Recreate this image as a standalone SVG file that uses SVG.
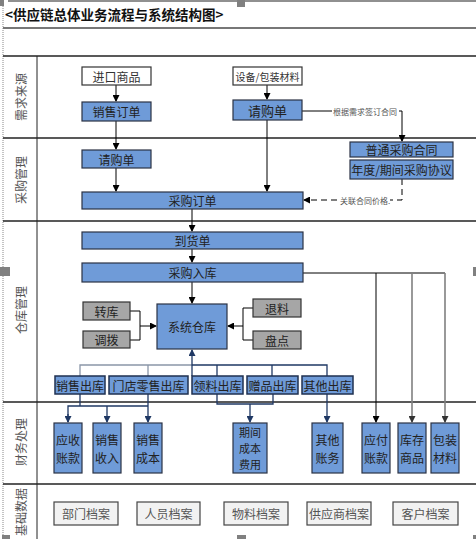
<svg xmlns="http://www.w3.org/2000/svg" width="476" height="539" viewBox="0 0 476 539">
<defs>
<marker id="ah" markerWidth="7" markerHeight="7" refX="6" refY="3.5" orient="auto" markerUnits="userSpaceOnUse"><path d="M0,0 L7,3.5 L0,7 z" fill="#000"/></marker>
<marker id="ahn" markerWidth="7" markerHeight="7" refX="6" refY="3.5" orient="auto" markerUnits="userSpaceOnUse"><path d="M0,0 L7,3.5 L0,7 z" fill="#1f3864"/></marker>
<marker id="ahg" markerWidth="7" markerHeight="7" refX="6" refY="3.5" orient="auto" markerUnits="userSpaceOnUse"><path d="M0,0 L7,3.5 L0,7 z" fill="#333"/></marker>
</defs>
<style>
text{font-family:"Noto Sans CJK SC","Noto Sans",sans-serif;}
.t{font-size:12px;fill:#222;text-anchor:middle;dominant-baseline:central;}
.f{font-size:12px;fill:#222;text-anchor:middle;dominant-baseline:central;}
.f3{font-size:11px;fill:#222;text-anchor:middle;dominant-baseline:central;}
.lane{font-size:12px;fill:#555;text-anchor:middle;dominant-baseline:central;}
.sm{font-size:8px;fill:#555;dominant-baseline:central;}
.blue{fill:#6f9bd8;stroke:#2b3245;stroke-width:1.2;}
.blueo{fill:#6f9bd8;stroke:#1f3050;stroke-width:1.5;}
.white{fill:#fff;stroke:#333;stroke-width:1.2;}
.gray{fill:#a6a6a6;stroke:#333;stroke-width:1.2;}
.base{fill:#f2f2f2;stroke:#444;stroke-width:1.2;}
.c{fill:none;stroke:#000;stroke-width:1;}
.cn{fill:none;stroke:#1f3864;stroke-width:1.3;}
.cg{fill:none;stroke:#8a96a8;stroke-width:1.3;}
.cgr{fill:none;stroke:#808080;stroke-width:1.6;}
.lanel{stroke:#222;stroke-width:1.4;}
.h{fill:#808080;}
</style>

<g id="frame">
<line x1="3" y1="0" x2="3" y2="539" stroke="#888" stroke-width="1" stroke-dasharray="1,1"/>
<line x1="8" y1="1" x2="476" y2="1" stroke="#222" stroke-width="1.2"/>
<line x1="3" y1="28" x2="476" y2="28" stroke="#777" stroke-width="2"/>
<line x1="3" y1="56" x2="476" y2="56" class="lanel"/>
<line x1="3" y1="138" x2="476" y2="138" class="lanel"/>
<line x1="3" y1="221" x2="476" y2="221" class="lanel"/>
<line x1="3" y1="402" x2="476" y2="402" class="lanel"/>
<line x1="3" y1="484" x2="476" y2="484" class="lanel"/>
<line x1="37" y1="56" x2="37" y2="539" stroke="#222" stroke-width="1"/>
<rect class="h" x="0" y="0" width="4" height="6"/>
<rect class="h" x="237" y="0" width="8" height="7"/>
<rect class="h" x="0" y="267" width="10" height="9"/>
<rect class="h" x="473" y="267" width="3" height="9"/>
<rect class="h" x="2" y="535" width="8" height="4"/>
<rect class="h" x="237" y="535" width="9" height="4"/>
<rect class="h" x="473" y="535" width="3" height="4"/>
<text x="5" y="14" style="font-size:13.5px;font-weight:bold;fill:#111;dominant-baseline:central;">&lt;供应链总体业务流程与系统结构图&gt;</text>
<text class="lane" transform="translate(20,97) rotate(-90)">需求来源</text>
<text class="lane" transform="translate(20,180) rotate(-90)">采购管理</text>
<text class="lane" transform="translate(20,310) rotate(-90)">仓库管理</text>
<text class="lane" transform="translate(20,442) rotate(-90)">财务处理</text>
<text class="lane" transform="translate(20,512) rotate(-90)">基础数据</text>
</g>

<g id="connectors">
<line class="c" x1="116" y1="85" x2="116" y2="101" marker-end="url(#ah)"/>
<line class="c" x1="267" y1="85" x2="267" y2="99" marker-end="url(#ah)"/>
<line class="c" x1="116" y1="121" x2="116" y2="149" marker-end="url(#ah)"/>
<line class="c" x1="116" y1="168" x2="116" y2="191" marker-end="url(#ah)"/>
<line class="c" x1="267" y1="120" x2="267" y2="191" marker-end="url(#ah)"/>
<polyline class="c" points="302,111 332,111"/>
<text class="sm" x="333" y="111">根据需求签订合同</text>
<polyline class="c" points="399,111 402,111 402,141" marker-end="url(#ah)"/>
<polyline class="c" points="402,179 402,200 390,200" stroke-dasharray="6,4"/>
<text class="sm" x="340" y="200">关联合同价格.</text>
<polyline class="c" points="337,200 304,200" stroke-dasharray="6,4" marker-end="url(#ah)"/>
<line class="c" x1="192" y1="209" x2="192" y2="231" marker-end="url(#ah)"/>
<line class="c" x1="192" y1="249" x2="192" y2="262" marker-end="url(#ah)"/>
<line class="c" x1="192" y1="282" x2="192" y2="303" marker-end="url(#ah)"/>
<polyline class="c" points="303,273 445,273"/>
<line class="c" x1="376" y1="273" x2="376" y2="422" marker-end="url(#ah)"/>
<line class="cgr" x1="412" y1="273" x2="412" y2="422" marker-end="url(#ahg)"/>
<line class="cgr" x1="445" y1="273" x2="445" y2="422" marker-end="url(#ahg)"/>
<polyline class="c" points="130,311 140,311 140,340 130,340"/>
<line class="c" x1="140" y1="326" x2="156" y2="326" marker-end="url(#ah)"/>
<polyline class="c" points="253,308 243,308 243,340 253,340"/>
<line class="c" x1="243" y1="326" x2="228" y2="326" marker-end="url(#ah)"/>
<polyline class="cg" points="80,376 80,365 192,365"/>
<line class="cg" x1="148" y1="365" x2="148" y2="376"/>
<polyline class="cn" points="192,365 327,365 327,376"/>
<line class="cn" x1="217" y1="365" x2="217" y2="376"/>
<line class="cn" x1="272" y1="365" x2="272" y2="376"/>
<line class="cn" x1="192" y1="376" x2="192" y2="350" stroke-width="2" marker-end="url(#ahn)"/>
<polyline class="cn" points="80,394 80,406"/>
<polyline class="cn" points="148,394 148,422" marker-end="url(#ahn)"/>
<polyline class="cn" points="68,422 68,406 148,406"/>
<line class="cn" x1="68" y1="414" x2="68" y2="422" marker-end="url(#ahn)"/>
<line class="cn" x1="107" y1="406" x2="107" y2="422" marker-end="url(#ahn)"/>
<polyline class="cn" points="217,394 217,404 273,404 273,394"/>
<line class="cn" x1="250" y1="404" x2="250" y2="422" marker-end="url(#ahn)"/>
<line class="cn" x1="327" y1="394" x2="327" y2="422" marker-end="url(#ahn)"/>
</g>

<g id="n-import"><rect class="white" x="82" y="67" width="69" height="18"/><text class="t" x="116.5" y="76" style="fill:#333">进口商品</text></g>
<g id="n-equip"><rect class="white" x="233" y="67" width="69" height="18"/><text class="t" x="267.5" y="76" style="font-size:10px;fill:#333">设备/包装材料</text></g>
<g id="n-salesorder"><rect class="blue" x="82" y="102" width="69" height="19"/><text class="t" x="116.5" y="111.5">销售订单</text></g>
<g id="n-req1"><rect class="blue" x="233" y="100" width="69" height="20"/><text class="t" x="267.5" y="110" style="font-size:13px">请购单</text></g>
<g id="n-contract"><rect class="blue" x="350" y="142" width="103" height="15"/><text class="t" x="401.5" y="149.5">普通采购合同</text></g>
<g id="n-agreement"><rect class="blue" x="350" y="160" width="103" height="19"/><text class="t" x="401.5" y="169.5">年度/期间采购协议</text></g>
<g id="n-req2"><rect class="blue" x="82" y="150" width="69" height="18"/><text class="t" x="116.5" y="159">请购单</text></g>
<g id="n-po"><rect class="blue" x="82" y="192" width="221" height="17"/><text class="t" x="192.5" y="200.5">采购订单</text></g>
<g id="n-arrival"><rect class="blue" x="82" y="232" width="221" height="17"/><text class="t" x="192.5" y="240.5">到货单</text></g>
<g id="n-inbound"><rect class="blue" x="82" y="263" width="221" height="19"/><text class="t" x="192.5" y="272.5">采购入库</text></g>
<g id="n-warehouse"><rect class="blue" x="157" y="304" width="70" height="45"/><text class="t" x="192" y="326.5">系统仓库</text></g>
<g id="n-transfer"><rect class="gray" x="83" y="302" width="47" height="18"/><text class="t" x="106.5" y="311">转库</text></g>
<g id="n-allot"><rect class="gray" x="83" y="331" width="47" height="17"/><text class="t" x="106.5" y="339.5">调拨</text></g>
<g id="n-return"><rect class="gray" x="253" y="299" width="48" height="18"/><text class="t" x="277" y="308">退料</text></g>
<g id="n-count"><rect class="gray" x="253" y="331" width="48" height="18"/><text class="t" x="277" y="340">盘点</text></g>
<g id="n-out-sales"><rect class="blueo" x="55" y="376" width="50" height="18"/><text class="t" x="80" y="385">销售出库</text></g>
<g id="n-out-retail"><rect class="blueo" x="109" y="376" width="79" height="18"/><text class="t" x="148.5" y="385">门店零售出库</text></g>
<g id="n-out-material"><rect class="blueo" x="192" y="376" width="51" height="18"/><text class="t" x="217.5" y="385">领料出库</text></g>
<g id="n-out-gift"><rect class="blueo" x="247" y="376" width="51" height="18"/><text class="t" x="272.5" y="385">赠品出库</text></g>
<g id="n-out-other"><rect class="blueo" x="302" y="376" width="51" height="18"/><text class="t" x="327.5" y="385">其他出库</text></g>
<g id="n-ar"><rect class="blue" x="54" y="423" width="28" height="50"/><text class="f" x="68" y="439">应收</text><text class="f" x="68" y="457">账款</text></g>
<g id="n-rev"><rect class="blue" x="93" y="423" width="28" height="50"/><text class="f" x="107" y="439">销售</text><text class="f" x="107" y="457">收入</text></g>
<g id="n-cost"><rect class="blue" x="134" y="423" width="28" height="50"/><text class="f" x="148" y="439">销售</text><text class="f" x="148" y="457">成本</text></g>
<g id="n-period"><rect class="blue" x="233" y="423" width="34" height="50"/><text class="f3" x="250" y="432">期间</text><text class="f3" x="250" y="448">成本</text><text class="f3" x="250" y="464">费用</text></g>
<g id="n-otheracc"><rect class="blue" x="312" y="423" width="31" height="50"/><text class="f" x="327.5" y="439">其他</text><text class="f" x="327.5" y="457">账务</text></g>
<g id="n-ap"><rect class="blue" x="362" y="423" width="28" height="50"/><text class="f" x="376" y="439">应付</text><text class="f" x="376" y="457">账款</text></g>
<g id="n-stock"><rect class="blue" x="398" y="423" width="28" height="50"/><text class="f" x="412" y="439">库存</text><text class="f" x="412" y="457">商品</text></g>
<g id="n-pack"><rect class="blue" x="431" y="423" width="28" height="50"/><text class="f" x="445" y="439">包装</text><text class="f" x="445" y="457">材料</text></g>
<g id="n-dept"><rect class="base" x="54" y="502" width="64" height="23"/><text class="t" x="86" y="513.5" style="fill:#555">部门档案</text></g>
<g id="n-staff"><rect class="base" x="137" y="502" width="63" height="23"/><text class="t" x="168.5" y="513.5" style="fill:#555">人员档案</text></g>
<g id="n-item"><rect class="base" x="224" y="502" width="64" height="23"/><text class="t" x="256" y="513.5" style="fill:#555">物料档案</text></g>
<g id="n-supplier"><rect class="base" x="307" y="502" width="64" height="23"/><text class="t" x="339" y="513.5" style="fill:#555">供应商档案</text></g>
<g id="n-customer"><rect class="base" x="393" y="502" width="65" height="23"/><text class="t" x="425.5" y="513.5" style="fill:#555">客户档案</text></g>
</svg>
